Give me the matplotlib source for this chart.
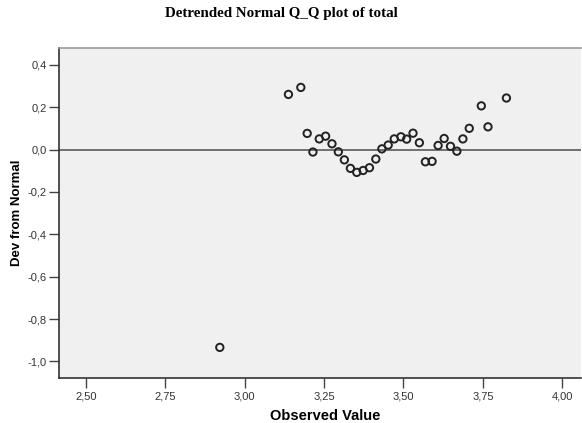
import numpy as np
import matplotlib
matplotlib.use("Agg")
import matplotlib.pyplot as plt
from matplotlib.ticker import FuncFormatter

observed = [2.922, 3.138, 3.177, 3.197, 3.215, 3.235, 3.255, 3.275, 3.295,
            3.314, 3.333, 3.353, 3.373, 3.393, 3.413, 3.432, 3.452, 3.471,
            3.492, 3.510, 3.530, 3.550, 3.569, 3.590, 3.609, 3.628, 3.648,
            3.668, 3.687, 3.707, 3.745, 3.766, 3.824]
deviation = [-0.934, 0.260, 0.293, 0.076, -0.012, 0.050, 0.063, 0.027, -0.011,
             -0.049, -0.089, -0.108, -0.099, -0.086, -0.045, 0.003, 0.021, 0.050,
             0.060, 0.049, 0.077, 0.032, -0.058, -0.056, 0.019, 0.052, 0.015,
             -0.008, 0.050, 0.100, 0.206, 0.107, 0.243]

x_ticks = [2.50, 2.75, 3.00, 3.25, 3.50, 3.75, 4.00]
y_ticks = [0.4, 0.2, 0.0, -0.2, -0.4, -0.6, -0.8, -1.0]

fig = plt.figure(figsize=(5.82, 4.23), dpi=100)
ax = fig.add_axes([0.1014, 0.1071, 0.8976, 0.7794])
ax.set_facecolor('#f0f0f0')

ax.axhline(0, color='#666666', lw=1.3, zorder=1)
ax.scatter(observed, deviation, s=28, facecolors='none', edgecolors='#222222',
           linewidths=1.4, zorder=3)

ax.set_xlim(2.416, 4.06)
ax.set_ylim(-1.077, 0.479)
ax.set_xticks(x_ticks)
ax.set_yticks(y_ticks)

comma = lambda d: FuncFormatter(lambda v, p: f"{v:.{d}f}".replace('.', ','))
ax.xaxis.set_major_formatter(comma(2))
ax.yaxis.set_major_formatter(comma(1))

ax.tick_params(axis='both', direction='out', length=7, width=1, color='#444444',
               labelsize=8, labelcolor='#333333')
ax.tick_params(axis='x', pad=3)
ax.tick_params(axis='y', pad=2)
for lab in ax.get_xticklabels() + ax.get_yticklabels():
    lab.set_family('Liberation Sans')

for side in ['left', 'bottom']:
    ax.spines[side].set_color('#333333')
    ax.spines[side].set_linewidth(1.2)
ax.spines['top'].set_color('#999999')
ax.spines['top'].set_linewidth(1.2)
ax.spines['right'].set_visible(False)

ax.set_xlabel('Observed Value', fontsize=10.5, fontweight='bold',
              family='Liberation Sans', labelpad=5)
ax.xaxis.set_label_coords(0.51, -0.095)
ax.set_ylabel('Dev from Normal', fontsize=9.5, fontweight='bold',
              family='Liberation Sans')
ax.yaxis.set_label_coords(-0.068, 0.5)

fig.text(0.483, 0.967, 'Detrended Normal Q_Q plot of total', ha='center', va='center',
         fontsize=10.8, fontweight='bold', family='Liberation Serif')

fig.savefig('out.png', dpi=100)
